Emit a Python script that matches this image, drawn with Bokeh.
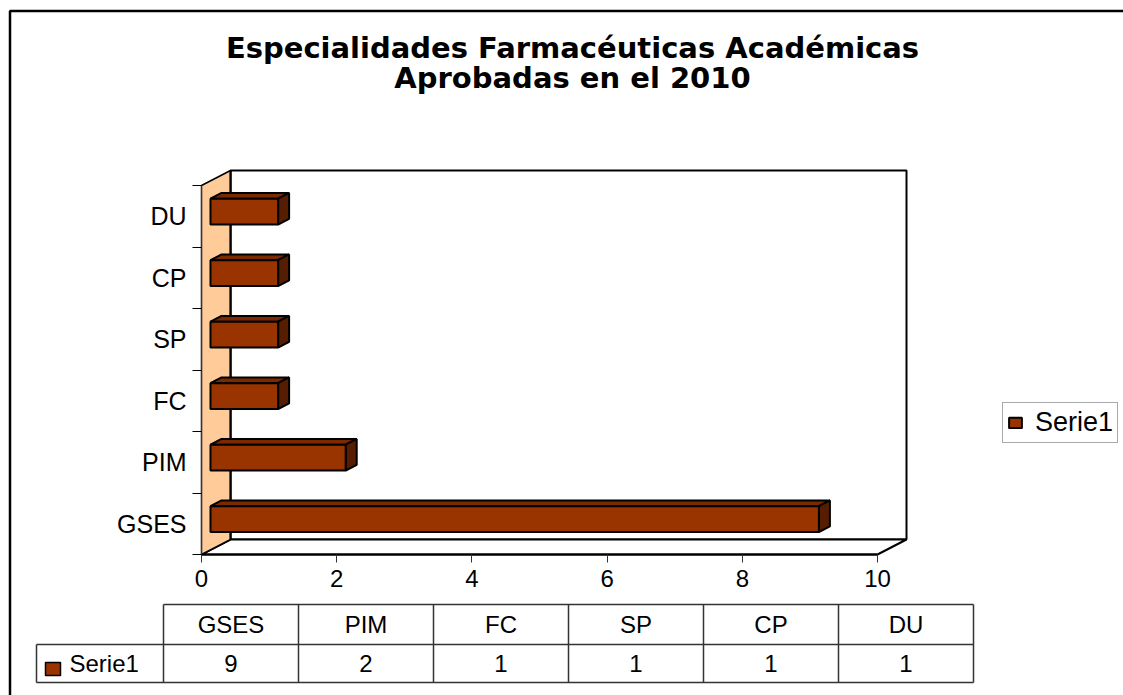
import numpy as np
from bokeh.plotting import figure
from bokeh.models import Range1d, LinearAxis, FixedTicker, Legend, LegendItem, ColumnDataSource
from bokeh.core.properties import value
from bokeh.embed import file_html
from bokeh.resources import INLINE

# ---------------- data ----------------
categories = ["GSES", "PIM", "FC", "SP", "CP", "DU"]
values = [9, 2, 1, 1, 1, 1]
x_ticks = [0, 2, 4, 6, 8, 10]
series_name = "Serie1"
title_lines = ["Especialidades Farmacéuticas Académicas", "Aprobadas en el 2010"]

# ---------------- styles / layout ----------------
BAR_FRONT = "#993300"
BAR_TOP = "#7A2900"
BAR_SIDE = "#561D00"
WALL = "#FFCC99"
FONT = "Liberation Sans"
TITLE_FONT = "DejaVu Sans"

W, H = 1123, 695
PAGE = 0
X0_PX, X_PER = 201.0, 67.6   # page pixel of value 0, pixels per unit
Y0_PX, Y_PER = 554.0, 61.5   # page pixel of category floor, pixels per category
DEPTH_X_PX, DEPTH_Y_PX = 29.0, 15.0


def dx(px):
    return (px - X0_PX) / X_PER


def dy(py):
    return (Y0_PX - py) / Y_PER


DX = DEPTH_X_PX / X_PER
DY = DEPTH_Y_PX / Y_PER

n = len(categories)
x_max = x_ticks[-1]

p = figure(width=W, height=H,
           x_range=Range1d(dx(PAGE), dx(PAGE + W)),
           y_range=Range1d(dy(PAGE + H), dy(PAGE)),
           output_backend="svg", toolbar_location=None,
           x_axis_location=None, y_axis_location=None,
           min_border=0, outline_line_color=None)
p.background_fill_color = "white"
p.border_fill_color = "white"
p.grid.visible = False

# outer chart border (left & top visible)
p.line(x=[dx(9.5), dx(9.5), dx(1140)], y=[dy(720), dy(10.5), dy(10.5)],
       line_color="black", line_width=2.5)

# title
p.text(x=[dx(572), dx(572)], y=[dy(47), dy(77)], text=title_lines,
       text_font=value(TITLE_FONT), text_font_style="bold", text_font_size="29px",
       text_align="center", text_baseline="middle", text_color="black")

# ---------------- 3D walls ----------------
p.quad(left=[DX], right=[x_max + DX], bottom=[DY], top=[n + DY],
       fill_color="white", line_color="black", line_width=2)
p.patch(x=[0, x_max, x_max + DX, DX], y=[0, 0, DY, DY],
        fill_color="white", line_color="black", line_width=2)
p.patch(x=[0, 0, DX, DX], y=[0, n, n + DY, DY],
        fill_color=WALL, line_color="black", line_width=1.5)
p.line(x=[DX, DX], y=[DY, n + DY], line_color="black", line_width=2)

# ---------------- bars ----------------
d1, d2 = 0.31, 0.69
BH = 0.42
yc = np.arange(n) + 0.5
vals = np.array(values, dtype=float)
bot = yc - BH / 2
top = yc + BH / 2

top_xs = [[d1 * DX, v + d1 * DX, v + d2 * DX, d2 * DX] for v in vals]
top_ys = [[t + d1 * DY, t + d1 * DY, t + d2 * DY, t + d2 * DY] for t in top]
side_xs = [[v + d1 * DX, v + d2 * DX, v + d2 * DX, v + d1 * DX] for v in vals]
side_ys = [[b + d1 * DY, b + d2 * DY, t + d2 * DY, t + d1 * DY] for b, t in zip(bot, top)]

p.patches(xs=top_xs, ys=top_ys, fill_color=BAR_TOP, line_color="black", line_width=2)
p.patches(xs=side_xs, ys=side_ys, fill_color=BAR_SIDE, line_color="black", line_width=2)
front_src = ColumnDataSource(dict(left=np.full(n, d1 * DX), right=vals + d1 * DX,
                                  bottom=bot + d1 * DY, top=top + d1 * DY))
front = p.quad(left="left", right="right", bottom="bottom", top="top", source=front_src,
               fill_color=BAR_FRONT, line_color="black", line_width=2)

# ---------------- axes ----------------
xaxis = LinearAxis(fixed_location=0, bounds=(0, x_max),
                   ticker=FixedTicker(ticks=x_ticks, minor_ticks=[]))
xaxis.axis_line_color = "black"
xaxis.axis_line_width = 2
xaxis.major_tick_in = 0
xaxis.major_tick_out = 8
xaxis.major_tick_line_color = "#333333"
xaxis.minor_tick_out = 0
xaxis.minor_tick_in = 0
xaxis.major_label_standoff = 7
xaxis.major_label_text_font = FONT
xaxis.major_label_text_font_size = "24px"
xaxis.major_label_text_color = "black"
p.add_layout(xaxis, "below")

yaxis = LinearAxis(fixed_location=0, bounds=(0, n),
                   ticker=FixedTicker(ticks=list(yc), minor_ticks=list(range(n + 1))),
                   major_label_overrides={float(c): cat for c, cat in zip(yc, categories)})
yaxis.axis_line_color = "#333333"
yaxis.axis_line_width = 1
yaxis.major_tick_in = 0
yaxis.major_tick_out = 0
yaxis.minor_tick_in = 0
yaxis.minor_tick_out = 9
yaxis.minor_tick_line_color = "black"
yaxis.major_label_standoff = 6
yaxis.major_label_text_font = FONT
yaxis.major_label_text_font_size = "25px"
yaxis.major_label_text_color = "black"
p.add_layout(yaxis, "left")

# ---------------- legend ----------------
legend = Legend(items=[LegendItem(label=series_name, renderers=[front], index=0)],
                location=(1002 - PAGE, H - (443 - PAGE)),
                orientation="vertical", padding=4, spacing=0, margin=0,
                glyph_width=16, glyph_height=13, label_standoff=12,
                label_text_font=FONT, label_text_font_size="27px",
                label_text_color="black",
                border_line_color="#555555", border_line_width=1.5,
                background_fill_color="white", background_fill_alpha=1)
p.add_layout(legend)

# ---------------- data table ----------------
TBL_X0, TBL_COLW, TBL_KEY_X0 = 163.0, 135.0, 36.0
TBL_Y0, TBL_Y1, TBL_Y2 = 604.0, 644.0, 682.0
col_edges = [TBL_X0 + k * TBL_COLW for k in range(n + 1)]
col_centers = [TBL_X0 + (k + 0.5) * TBL_COLW for k in range(n)]

seg_x0 = [dx(TBL_X0), dx(TBL_KEY_X0), dx(TBL_KEY_X0), dx(TBL_KEY_X0)] + [dx(e) for e in col_edges]
seg_x1 = [dx(col_edges[-1]), dx(col_edges[-1]), dx(col_edges[-1]), dx(TBL_KEY_X0)] + [dx(e) for e in col_edges]
seg_y0 = [dy(TBL_Y0), dy(TBL_Y1), dy(TBL_Y2), dy(TBL_Y1)] + [dy(TBL_Y0)] * len(col_edges)
seg_y1 = [dy(TBL_Y0), dy(TBL_Y1), dy(TBL_Y2), dy(TBL_Y2)] + [dy(TBL_Y2)] * len(col_edges)
p.segment(x0=seg_x0, y0=seg_y0, x1=seg_x1, y1=seg_y1, line_color="#333333", line_width=1.5)

p.text(x=[dx(c) for c in col_centers], y=[dy((TBL_Y0 + TBL_Y1) / 2)] * n, text=categories,
       text_font=value(FONT), text_font_size="24px", text_align="center",
       text_baseline="middle", text_color="black")
p.text(x=[dx(c) for c in col_centers], y=[dy((TBL_Y1 + TBL_Y2) / 2)] * n,
       text=[str(v) for v in values],
       text_font=value(FONT), text_font_size="24px", text_align="center",
       text_baseline="middle", text_color="black")
p.quad(left=[dx(45)], right=[dx(60)], bottom=[dy(675)], top=[dy(662)],
       fill_color=BAR_FRONT, line_color="black", line_width=1.5)
p.text(x=[dx(69)], y=[dy((TBL_Y1 + TBL_Y2) / 2)], text=[series_name],
       text_font=value(FONT), text_font_size="24px", text_align="left",
       text_baseline="middle", text_color="black")

open("out.html", "w").write(file_html(p, INLINE))
